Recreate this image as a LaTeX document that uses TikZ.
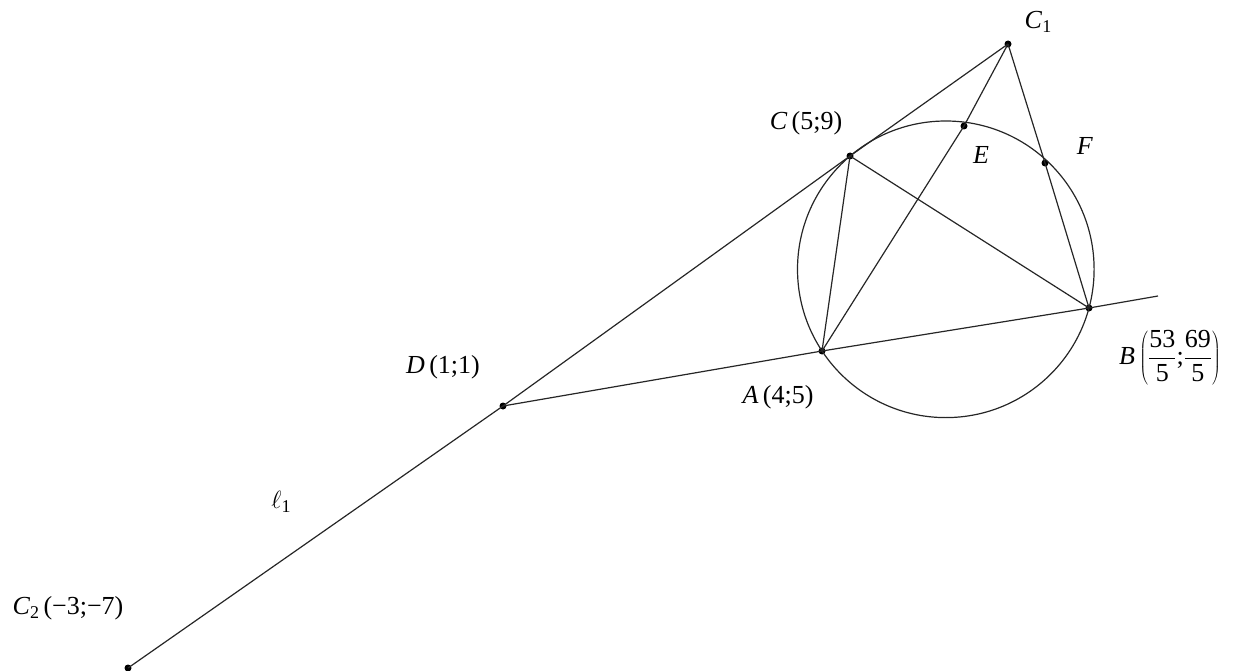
\documentclass[tikz,border=0pt]{standalone}
\usepackage{fontspec}
\setmainfont{Liberation Serif}
\begin{document}
\begin{tikzpicture}[x=1pt,y=-1pt,
  seg/.style={line width=1.2pt, black!85},
  pt/.style={circle, fill=black, inner sep=0pt, minimum size=7pt},
  lbl/.style={inner sep=0pt, font=\fontsize{26}{30}\selectfont}]
\useasboundingbox (0,0) rectangle (1233,671);
% points
\node[pt] (C1) at (1008,44) {};
\node[pt] (C) at (850,156) {};
\node[pt] (E) at (964,126) {};
\node[pt] (F) at (1045,163) {};
\node[pt] (B) at (1089,308) {};
\node[pt] (A) at (822,351) {};
\node[pt] (D) at (503,406) {};
\node[pt] (C2) at (128,668) {};
\coordinate (O) at (945.8,269.3);
\coordinate (Bend) at (1158,296);
% circle
\draw[seg] (O) circle[radius=148.3];
% lines
\draw[seg] (C2.center) -- (D.center) -- (C.center) -- (C1.center);
\draw[seg] (D.center) -- (A.center) -- (B.center) -- (Bend);
\draw[seg] (C.center) -- (A.center);
\draw[seg] (C.center) -- (B.center);
\draw[seg] (A.center) -- (E.center) -- (C1.center);
\draw[seg] (C1.center) -- (F.center) -- (B.center);
% labels
\node[lbl] (lC1) at (1038,22) {\textit{C}\raisebox{-0.35ex}{\fontsize{18}{20}\selectfont 1}};
\node[lbl] (lC) at (806,123) {\textit{C}\,(5;9)};
\node[lbl] (lE) at (981,155) {\textit{E}};
\node[lbl] (lF) at (1085,146) {\textit{F}};
\node[lbl] (lB) at (1170,358) {\textit{B}\,$\displaystyle\left(\frac{\mbox{53}}{\mbox{5}}\mbox{;}\frac{\mbox{69}}{\mbox{5}}\right)$};
\node[lbl] (lA) at (778,397) {\textit{A}\,(4;5)};
\node[lbl] (lD) at (443,367) {\textit{D}\,(1;1)};
\node[lbl] (lC2) at (68,608) {\textit{C}\raisebox{-0.35ex}{\fontsize{18}{20}\selectfont 2}\,(−3;−7)};
\node[lbl] (ll) at (281,502) {$\ell$\raisebox{-0.35ex}{\fontsize{18}{20}\selectfont 1}};
\end{tikzpicture}
\end{document}
